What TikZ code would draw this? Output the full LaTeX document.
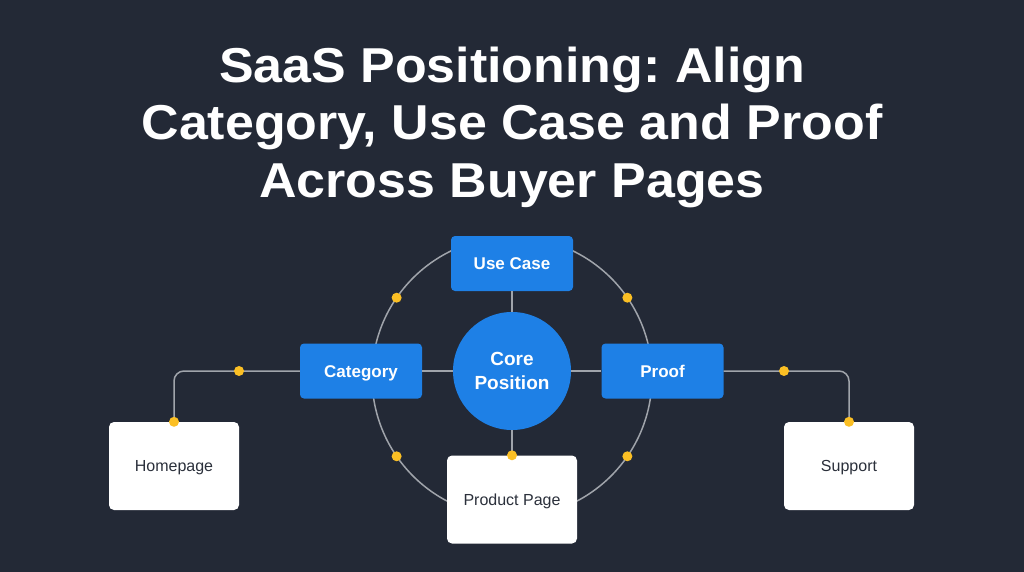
\documentclass[tikz,border=0pt]{standalone}
\usepackage{fontspec}
\setmainfont{Liberation Sans}
\newfontfamily\titlefont[FakeStretch=1.06]{Liberation Sans Bold}
\usetikzlibrary{calc}
\definecolor{bg}{HTML}{232936}
\definecolor{blu}{HTML}{1E80E6}
\definecolor{ln}{HTML}{A0A4AB}
\definecolor{dotc}{HTML}{FBBF24}
\definecolor{txt}{HTML}{2B303B}
\frenchspacing
\begin{document}
\begin{tikzpicture}[x=1pt,y=-1pt,
  bluebox/.style={fill=blu, rounded corners=4pt, minimum width=122pt, minimum height=55pt, inner sep=0pt, text=white, text height=12.2pt, text depth=0pt, font=\bfseries\fontsize{17}{20}\selectfont},
  pagebox/.style={fill=white, rounded corners=5pt, minimum width=130pt, minimum height=88pt, inner sep=0pt, text=txt, text height=11.5pt, text depth=0pt, font=\fontsize{16}{19}\selectfont},
  titleline/.style={anchor=base, text=white, inner sep=0pt, font=\titlefont\fontsize{49}{57}\selectfont},
  link/.style={draw=ln, line width=1.5pt},
  yd/.style={circle, fill=dotc, inner sep=0pt, minimum size=10pt}]
\fill[bg] (0,0) rectangle (1024,572);
\useasboundingbox (0,0) rectangle (1024,572);
\node[titleline] (t1) at (512,83) {SaaS Positioning: Align};
\node[titleline] (t2) at (512,140) {Category, Use Case and Proof};
\node[titleline] (t3) at (512,197) {Across Buyer Pages};
\coordinate (rc) at (512,377);
\draw[link] (rc) circle (140pt);
\node[bluebox] (uc) at (512,263.5) {Use Case};
\node[bluebox] (cat) at (361,371) {Category};
\node[bluebox] (proof) at (662.5,371) {Proof};
\node[circle, fill=blu, minimum size=118pt, inner sep=0pt, text=white, align=center, font=\bfseries\fontsize{19}{24}\selectfont] (core) at (512,371) {\raisebox{-1.5pt}{Core}\\\raisebox{-1.5pt}{Position}};
\node[pagebox] (prod) at (512,499.5) {Product Page};
\node[pagebox] (home) at (174,466) {Homepage};
\node[pagebox] (sup) at (849,466) {Support};
\draw[link] (uc.south) -- (core.north);
\draw[link] (cat.east) -- (core.west);
\draw[link] (core.east) -- (proof.west);
\draw[link] (core.south) -- (prod.north);
\draw[link, rounded corners=10pt] (cat.west) -| (home.north);
\draw[link, rounded corners=10pt] (proof.east) -| (sup.north);
\node[yd] (d1) at ($(rc)+(-145.5:140)$) {};
\node[yd] (d2) at ($(rc)+(-34.5:140)$) {};
\node[yd] (d3) at ($(rc)+(145.5:140)$) {};
\node[yd] (d4) at ($(rc)+(34.5:140)$) {};
\node[yd] (d5) at (prod.north) {};
\node[yd] (d6) at (home.north) {};
\node[yd] (d7) at (sup.north) {};
\node[yd] (d8) at (239,371) {};
\node[yd] (d9) at (784,371) {};
\end{tikzpicture}
\end{document}
